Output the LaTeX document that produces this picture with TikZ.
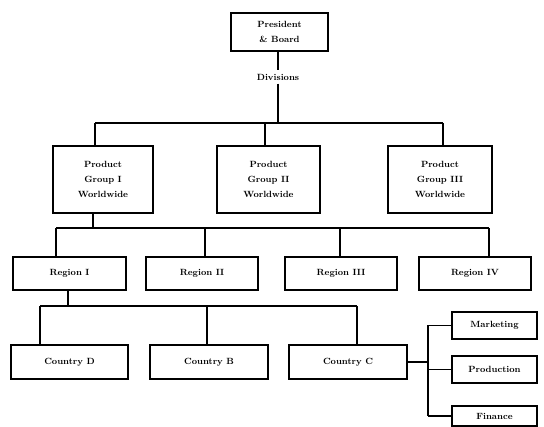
\documentclass[tikz,border=0pt]{standalone}
\usepackage{tikz}
\usetikzlibrary{positioning, calc}

\begin{document}
\begin{tikzpicture}[x=1pt,y=-1pt,
    box/.style={rectangle,draw,line width=1.2pt,inner sep=0pt,align=center,font=\small\bfseries,
        execute at begin node={\setlength{\baselineskip}{15pt}}},
    conn/.style={line width=1.2pt}]
    \useasboundingbox (0,0) rectangle (544,427);

    % Vertice
    \node[box,minimum width=97pt,minimum height=38pt] (pres) at (279.5,32) {President\\ \& Board};
    \node[font=\small\bfseries] (div) at (278,77) {Divisions};

    % Gruppi di prodotto
    \node[box,minimum width=100pt,minimum height=67pt] (pg1) at (103,179.5) {Product\\Group I\\Worldwide};
    \node[box,minimum width=103pt,minimum height=67pt] (pg2) at (268.5,179.5) {Product\\Group II\\Worldwide};
    \node[box,minimum width=104pt,minimum height=67pt] (pg3) at (440,179.5) {Product\\Group III\\Worldwide};

    % Regioni
    \node[box,minimum width=113pt,minimum height=33pt] (reg1) at (69.5,273.5) {Region I};
    \node[box,minimum width=112pt,minimum height=33pt] (reg2) at (202,273.5) {Region II};
    \node[box,minimum width=112pt,minimum height=33pt] (reg3) at (341,273.5) {Region III};
    \node[box,minimum width=112pt,minimum height=33pt] (reg4) at (475,273.5) {Region IV};

    % Paesi
    \node[box,minimum width=117pt,minimum height=34pt] (ctya) at (69.5,362) {Country D};
    \node[box,minimum width=118pt,minimum height=34pt] (ctyb) at (209,362) {Country B};
    \node[box,minimum width=118pt,minimum height=34pt] (ctyc) at (348,362) {Country C};

    % Funzioni
    \node[box,minimum width=85pt,minimum height=27pt] (mkt) at (494.5,325.5) {Marketing};
    \node[box,minimum width=85pt,minimum height=27pt] (prod) at (494.5,369.5) {Production};
    \node[box,minimum width=85pt,minimum height=20pt] (fin) at (494.5,416) {Finance};

    % Linee di collegamento
    \coordinate (bus1) at (0,123);
    \coordinate (bus2) at (0,228);
    \coordinate (bus3) at (0,306);
    \coordinate (bus4) at (428,0);

    \draw[conn] (pres.south -| div) -- (div.north);
    \draw[conn] (div.south) -- (bus1 -| div);
    \draw[conn] (bus1 -| 95,0) -- (bus1 -| 443,0);
    \draw[conn] (bus1 -| 95,0) -- (pg1.north -| 95,0);
    \draw[conn] (bus1 -| 265,0) -- (pg2.north -| 265,0);
    \draw[conn] (bus1 -| 443,0) -- (pg3.north -| 443,0);

    \draw[conn] (pg1.south -| 93,0) -- (bus2 -| 93,0);
    \draw[conn] (bus2 -| 56,0) -- (bus2 -| 489,0);
    \draw[conn] (bus2 -| 56,0) -- (reg1.north -| 56,0);
    \draw[conn] (bus2 -| 205,0) -- (reg2.north -| 205,0);
    \draw[conn] (bus2 -| 340,0) -- (reg3.north -| 340,0);
    \draw[conn] (bus2 -| 489,0) -- (reg4.north -| 489,0);

    \draw[conn] (reg1.south -| 68,0) -- (bus3 -| 68,0);
    \draw[conn] (bus3 -| 40,0) -- (bus3 -| 357,0);
    \draw[conn] (bus3 -| 40,0) -- (ctya.north -| 40,0);
    \draw[conn] (bus3 -| 207,0) -- (ctyb.north -| 207,0);
    \draw[conn] (bus3 -| 357,0) -- (ctyc.north -| 357,0);

    \draw[conn] (ctyc.east) -- (ctyc.east -| bus4);
    \draw[conn] (mkt.west -| bus4) -- (fin.west -| bus4);
    \draw[conn] (mkt.west -| bus4) -- (mkt.west);
    \draw[conn] (prod.west -| bus4) -- (prod.west);
    \draw[conn] (fin.west -| bus4) -- (fin.west);
\end{tikzpicture}
\end{document}
